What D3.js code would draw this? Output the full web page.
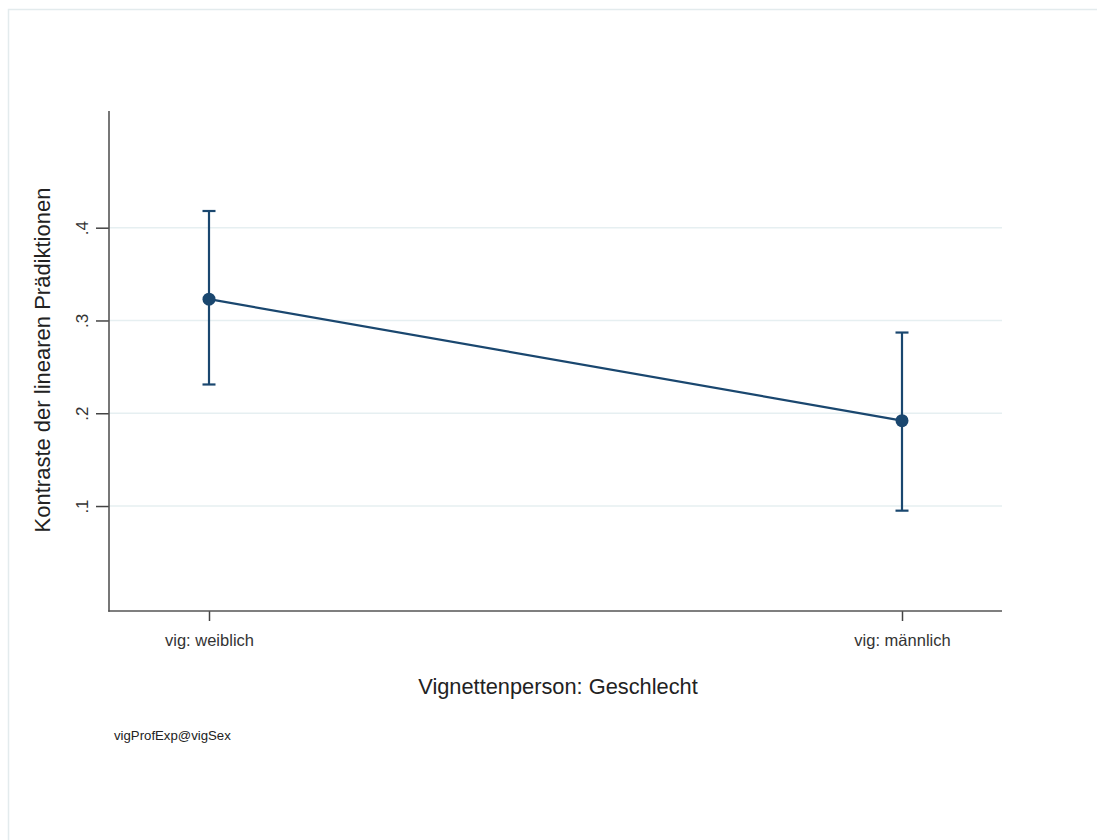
<!DOCTYPE html>
<html><head><meta charset="utf-8">
<script src="https://cdn.jsdelivr.net/npm/d3@7"></script>
<style>body{margin:0;background:#fff;}svg{display:block;}</style>
</head><body>
<svg id="c" width="1097" height="840"></svg>
<script>
const categories = ["vig: weiblich", "vig: männlich"];
const estimates = [0.323, 0.192];
const ciLower = [0.231, 0.095];
const ciUpper = [0.418, 0.287];
const yTicks = [0.1, 0.2, 0.3, 0.4];
const yTickLabels = [".1", ".2", ".3", ".4"];
const xTitle = "Vignettenperson: Geschlecht";
const yTitle = "Kontraste der linearen Prädiktionen";
const note = "vigProfExp@vigSex";

const svg = d3.select("#c");
const navy = "#1a476f";
const font = "Arial, 'Liberation Sans', sans-serif";

// outer frame
svg.append("rect").attr("x", 8.5).attr("y", 9.5).attr("width", 1100).attr("height", 840)
  .attr("fill", "#fff").attr("stroke", "#e3ebed").attr("stroke-width", 1.5);

const L = 109, R = 1002, T = 111, B = 611;
const y = d3.scaleLinear().domain([0, 0.4]).range([598.8, 227.7]);
const x = d3.scalePoint().domain(categories).range([L, R]).padding(0.1443);

// gridlines
svg.append("g").selectAll("line").data(yTicks).join("line")
  .attr("x1", L).attr("x2", R).attr("y1", d => y(d)).attr("y2", d => y(d))
  .attr("stroke", "#e6eff1").attr("stroke-width", 1.6);

// y axis
const yAxis = d3.axisLeft(y).tickValues(yTicks).tickFormat((d, i) => yTickLabels[i]).tickSize(13).tickSizeOuter(0);
const gy = svg.append("g").attr("transform", `translate(${L},0)`).call(yAxis);
gy.select(".domain").remove();
gy.selectAll(".tick line").attr("stroke", "#444").attr("stroke-width", 1.5);
gy.selectAll(".tick text").attr("transform", "rotate(-90)").attr("x", 0).attr("y", -21)
  .attr("dy", "0").attr("text-anchor", "middle").attr("font-family", font).attr("font-size", 17).attr("fill", "#333");
svg.append("line").attr("x1", L).attr("x2", L).attr("y1", T).attr("y2", B + 0.75)
  .attr("stroke", "#555").attr("stroke-width", 1.6);

// x axis
const xAxis = d3.axisBottom(x).tickSize(10).tickSizeOuter(0);
const gx = svg.append("g").attr("transform", `translate(0,${B})`).call(xAxis);
gx.select(".domain").remove();
gx.selectAll(".tick line").attr("stroke", "#444").attr("stroke-width", 1.5);
gx.selectAll(".tick text").attr("y", 29).attr("dy", "0.35em").attr("font-family", font).attr("font-size", 16.5).attr("fill", "#333");
svg.append("line").attr("x1", L - 0.75).attr("x2", R).attr("y1", B).attr("y2", B)
  .attr("stroke", "#555").attr("stroke-width", 1.6);

// titles
svg.append("text").attr("x", 558).attr("y", 686).attr("dy", "0.35em").attr("text-anchor", "middle")
  .attr("font-family", font).attr("font-size", 21.8).attr("fill", "#222").text(xTitle);
svg.append("text").attr("transform", `translate(42,360) rotate(-90)`).attr("dy", "0.35em")
  .attr("text-anchor", "middle").attr("font-family", font).attr("font-size", 22).attr("fill", "#222").text(yTitle);
svg.append("text").attr("x", 114).attr("y", 735).attr("dy", "0.35em")
  .attr("font-family", font).attr("font-size", 13.2).attr("fill", "#222").text(note);

const data = categories.map((c, i) => ({c, est: estimates[i], lo: ciLower[i], hi: ciUpper[i]}));

// connecting line
svg.append("path").datum(data)
  .attr("d", d3.line().x(d => x(d.c)).y(d => y(d.est)))
  .attr("fill", "none").attr("stroke", navy).attr("stroke-width", 2.2);

// error bars
const eb = svg.append("g").attr("stroke", navy).attr("stroke-width", 2.2);
eb.selectAll(".v").data(data).join("line")
  .attr("x1", d => x(d.c)).attr("x2", d => x(d.c)).attr("y1", d => y(d.lo)).attr("y2", d => y(d.hi));
eb.selectAll(".t").data(data).join("line")
  .attr("x1", d => x(d.c) - 6.5).attr("x2", d => x(d.c) + 6.5).attr("y1", d => y(d.hi)).attr("y2", d => y(d.hi));
eb.selectAll(".b").data(data).join("line")
  .attr("x1", d => x(d.c) - 6.5).attr("x2", d => x(d.c) + 6.5).attr("y1", d => y(d.lo)).attr("y2", d => y(d.lo));

// points
svg.append("g").selectAll("circle").data(data).join("circle")
  .attr("cx", d => x(d.c)).attr("cy", d => y(d.est)).attr("r", 6.5).attr("fill", navy);
</script>
</body></html>
